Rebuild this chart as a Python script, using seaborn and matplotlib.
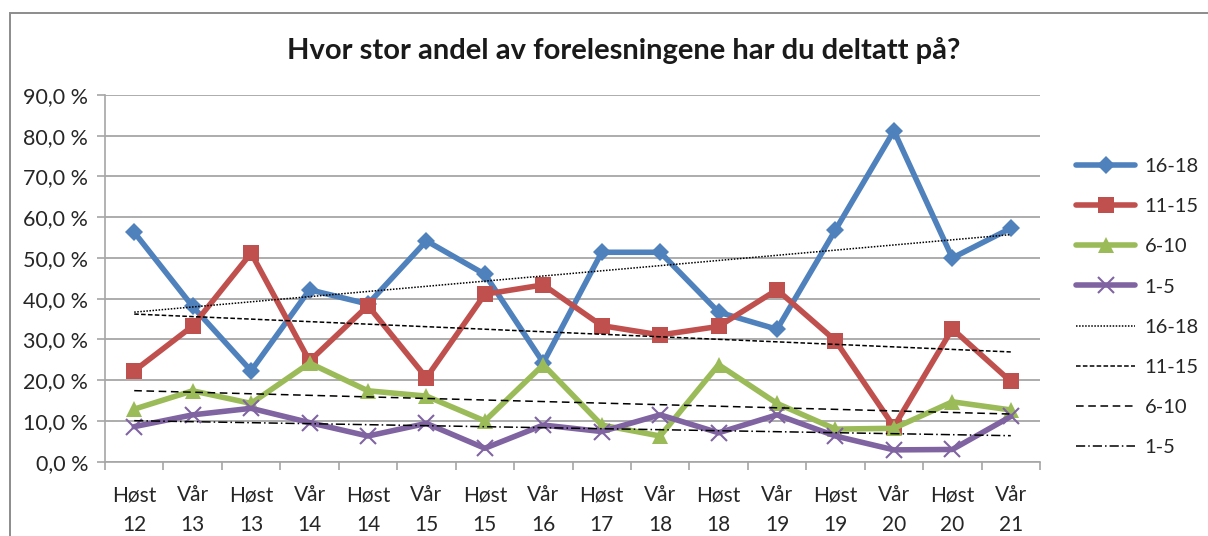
import numpy as np
import pandas as pd
import matplotlib
matplotlib.use("Agg")
import matplotlib.pyplot as plt
import seaborn as sns
from matplotlib.ticker import FuncFormatter, FixedLocator
from matplotlib.patches import Rectangle

# --- data ---
semesters = ["Høst\n12", "Vår\n13", "Høst\n13", "Vår\n14", "Høst\n14", "Vår\n15",
             "Høst\n15", "Vår\n16", "Høst\n17", "Vår\n18", "Høst\n18", "Vår\n19",
             "Høst\n19", "Vår\n20", "Høst\n20", "Vår\n21"]
group_names = ["16-18", "11-15", "6-10", "1-5"]
share_16_18 = [56.3, 38.1, 22.3, 42.2, 38.7, 54.2, 46.0, 24.3, 51.4, 51.4, 36.7, 32.5, 56.9, 81.2, 50.0, 57.3]
share_11_15 = [22.3, 33.3, 51.2, 24.7, 38.3, 20.6, 41.1, 43.4, 33.4, 31.1, 33.2, 42.2, 29.7, 8.6, 32.6, 19.7]
share_6_10 = [12.9, 17.4, 14.3, 24.2, 17.4, 16.1, 10.0, 23.8, 9.0, 6.3, 23.8, 14.3, 8.0, 8.2, 14.7, 12.7]
share_1_5 = [8.6, 11.5, 13.1, 9.6, 6.3, 9.4, 3.3, 9.0, 7.4, 11.5, 7.1, 11.5, 6.3, 2.9, 3.0, 11.1]

series = [share_16_18, share_11_15, share_6_10, share_1_5]
colors = ["#4F81BD", "#C0504D", "#9BBB59", "#8064A2"]
markers = ["D", "s", "^", "x"]
msizes = [9, 12, 11, 12]
trend_styles = [(0, (1, 1)), (0, (3, 1.5)), (0, (5, 3)), (0, (6, 2, 1, 2))]

sns.set_style("white")
plt.rcParams["font.family"] = ["Lato", "DejaVu Sans"]

fig = plt.figure(figsize=(12.08, 5.36), dpi=100)
ax = fig.add_axes([105 / 1208, 1 - 461.7 / 536, 935 / 1208, (461.7 - 95) / 536])

xpos = np.arange(len(semesters))
line_handles = []
trend_handles = []
for name, vals, col, mk, ms, tst in zip(group_names, series, colors, markers, msizes, trend_styles):
    df = pd.DataFrame({"x": xpos, "y": vals})
    sns.lineplot(data=df, x="x", y="y", ax=ax, color=col, lw=4, marker=mk,
                 markersize=ms, markeredgewidth=1.5 if mk == "x" else 0,
                 markeredgecolor=col, label=name, zorder=3)
    line_handles.append(ax.lines[-1])
    # linear trendline, like Excel's
    sns.regplot(data=df, x="x", y="y", ax=ax, scatter=False, ci=None, truncate=True,
                line_kws={"color": "black", "lw": 1.1, "ls": tst, "zorder": 4})
    trend_handles.append(ax.lines[-1])

ax.set_xlim(-0.5, len(semesters) - 0.5)
ax.set_ylim(0, 90)
ax.yaxis.set_major_locator(FixedLocator(np.arange(0, 91, 10)))
ax.yaxis.set_major_formatter(FuncFormatter(lambda v, p: f"{v:.1f} %".replace(".", ",")))
ax.grid(axis="y", color="#A6A6A6", lw=1.3, zorder=0)
ax.set_xticks(xpos)
ax.set_xticklabels(semesters, fontsize=15, linespacing=1.6)
ax.set_xticks(np.arange(-0.5, len(semesters), 1), minor=True)
ax.tick_params(axis="x", which="major", length=0, pad=17)
ax.tick_params(axis="x", which="minor", length=6, width=1.2, color="#A6A6A6", direction="out", bottom=True)
ax.tick_params(axis="y", length=6, width=1.2, color="#A6A6A6", direction="out", left=True, labelsize=15.5, pad=6)
ax.set_xlabel("")
ax.set_ylabel("")
for side in ["top", "right"]:
    ax.spines[side].set_visible(False)
for side in ["left", "bottom"]:
    ax.spines[side].set_color("#A6A6A6")
    ax.spines[side].set_linewidth(1.2)

legend = ax.legend(line_handles + trend_handles, group_names + group_names,
                   loc="center left", bbox_to_anchor=(1076 / 1208, 1 - 307 / 536),
                   bbox_transform=fig.transFigure, frameon=False, borderpad=0,
                   borderaxespad=0, fontsize=14.5, handlelength=2.95,
                   labelspacing=1.14, handletextpad=0.45)

fig.text(0.516, 0.905, "Hvor stor andel av forelesningene har du deltatt på?",
         ha="center", va="center", fontsize=21, fontweight="bold", color="#1A1A1A")

fig.patches.append(Rectangle((10 / 1208, -0.05), 1.2, 1.05 - 13 / 536, transform=fig.transFigure,
                             fill=False, edgecolor="#8C8C8C", lw=1.4))

fig.savefig("out.png", dpi=100)
